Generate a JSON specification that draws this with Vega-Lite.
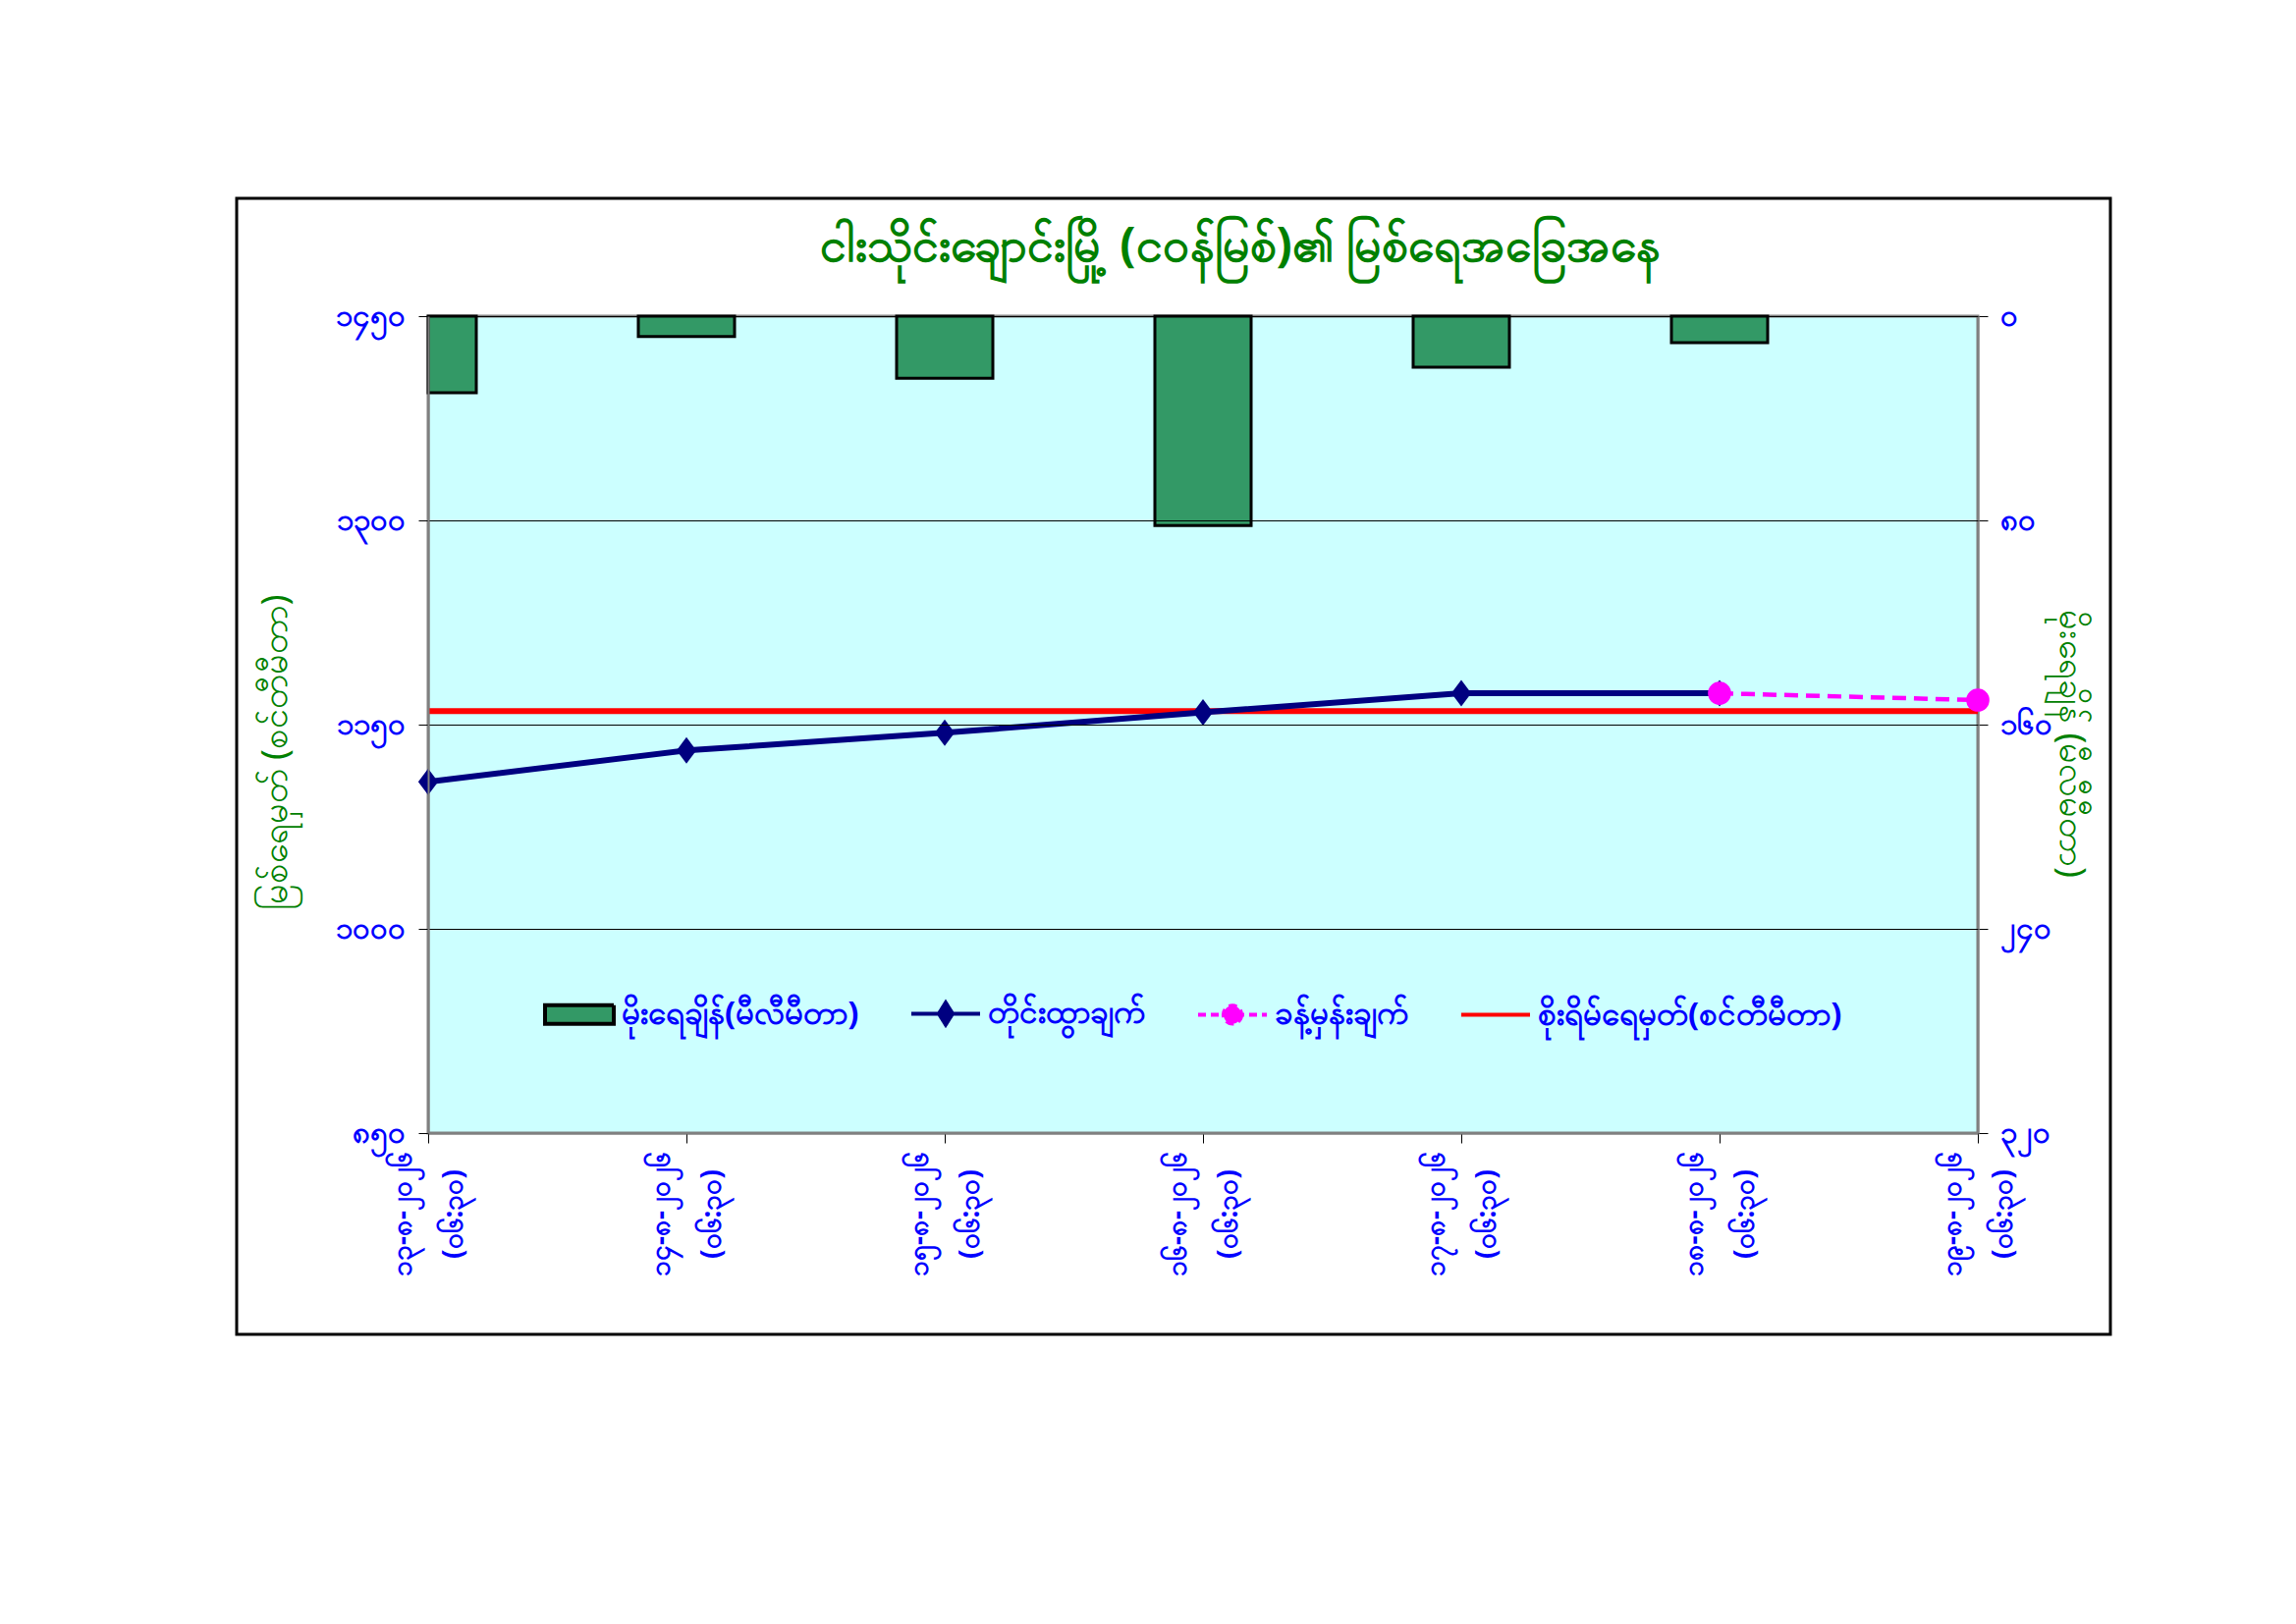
{
  "$schema": "https://vega.github.io/schema/vega-lite/v6.json",
  "width": 1908,
  "height": 1157,
  "autosize": {"type": "none"},
  "padding": {"left": 241, "top": 202, "right": 189, "bottom": 295},
  "background": "white",
  "title": {
    "text": "ငါးသိုင်းချောင်းမြို့ (ငဝန်မြစ်)၏  မြစ်ရေအခြေအနေ",
    "font": "Noto Sans",
    "fontSize": 48,
    "fontWeight": "bold",
    "color": "#008000",
    "anchor": "middle",
    "frame": "group",
    "dx": 68,
    "dy": 78
  },
  "config": {
    "view": {"stroke": "#000000", "strokeWidth": 3, "fill": "white"},
    "font": "Noto Sans",
    "axis": {
      "labelFont": "Noto Sans",
      "labelFontSize": 31,
      "labelFontWeight": "bold",
      "labelColor": "#0000FF",
      "titleFont": "Noto Sans",
      "titleFontSize": 36,
      "titleFontWeight": "normal",
      "titleColor": "#008000",
      "titleBaseline": "middle",
      "tickColor": "#000000",
      "tickSize": 10,
      "domainColor": "#808080",
      "domainWidth": 2,
      "grid": false,
      "labelOverlap": false
    },
    "legend": {
      "orient": "none",
      "legendX": 312,
      "legendY": 793,
      "direction": "horizontal",
      "symbolSize": 4900,
      "symbolStrokeWidth": 4,
      "labelFont": "Noto Sans",
      "labelFontSize": 33,
      "labelFontWeight": "bold",
      "labelColor": "#0000FF",
      "labelOffset": 6,
      "labelLimit": 0,
      "columnPadding": 45
    }
  },
  "datasets": {
    "river": [
      {"date": "၁၃-၈-၂၀၂၆ (၀၆:၃၀)", "series": "မိုးရေချိန်(မီလီမီတာ)", "value": 30},
      {"date": "၁၄-၈-၂၀၂၆ (၀၆:၃၀)", "series": "မိုးရေချိန်(မီလီမီတာ)", "value": 8},
      {"date": "၁၅-၈-၂၀၂၆ (၀၆:၃၀)", "series": "မိုးရေချိန်(မီလီမီတာ)", "value": 24.3},
      {"date": "၁၆-၈-၂၀၂၆ (၀၆:၃၀)", "series": "မိုးရေချိန်(မီလီမီတာ)", "value": 82},
      {"date": "၁၇-၈-၂၀၂၆ (၀၆:၃၀)", "series": "မိုးရေချိန်(မီလီမီတာ)", "value": 20},
      {"date": "၁၈-၈-၂၀၂၆ (၀၆:၃၀)", "series": "မိုးရေချိန်(မီလီမီတာ)", "value": 10.4},
      {"date": "၁၃-၈-၂၀၂၆ (၀၆:၃၀)", "series": "တိုင်းထွာချက်", "value": 1108},
      {"date": "၁၄-၈-၂၀၂၆ (၀၆:၃၀)", "series": "တိုင်းထွာချက်", "value": 1131},
      {"date": "၁၅-၈-၂၀၂၆ (၀၆:၃၀)", "series": "တိုင်းထွာချက်", "value": 1144},
      {"date": "၁၆-၈-၂၀၂၆ (၀၆:၃၀)", "series": "တိုင်းထွာချက်", "value": 1159},
      {"date": "၁၇-၈-၂၀၂၆ (၀၆:၃၀)", "series": "တိုင်းထွာချက်", "value": 1173},
      {"date": "၁၈-၈-၂၀၂၆ (၀၆:၃၀)", "series": "တိုင်းထွာချက်", "value": 1173},
      {"date": "၁၈-၈-၂၀၂၆ (၀၆:၃၀)", "series": "ခန့်မှန်းချက်", "value": 1173},
      {"date": "၁၉-၈-၂၀၂၆ (၀၆:၃၀)", "series": "ခန့်မှန်းချက်", "value": 1168},
      {"date": "၁၃-၈-၂၀၂၆ (၀၆:၃၀)", "series": "စိုးရိမ်ရေမှတ်(စင်တီမီတာ)", "value": 1160},
      {"date": "၁၄-၈-၂၀၂၆ (၀၆:၃၀)", "series": "စိုးရိမ်ရေမှတ်(စင်တီမီတာ)", "value": 1160},
      {"date": "၁၅-၈-၂၀၂၆ (၀၆:၃၀)", "series": "စိုးရိမ်ရေမှတ်(စင်တီမီတာ)", "value": 1160},
      {"date": "၁၆-၈-၂၀၂၆ (၀၆:၃၀)", "series": "စိုးရိမ်ရေမှတ်(စင်တီမီတာ)", "value": 1160},
      {"date": "၁၇-၈-၂၀၂၆ (၀၆:၃၀)", "series": "စိုးရိမ်ရေမှတ်(စင်တီမီတာ)", "value": 1160},
      {"date": "၁၈-၈-၂၀၂၆ (၀၆:၃၀)", "series": "စိုးရိမ်ရေမှတ်(စင်တီမီတာ)", "value": 1160},
      {"date": "၁၉-၈-၂၀၂၆ (၀၆:၃၀)", "series": "စိုးရိမ်ရေမှတ်(စင်တီမီတာ)", "value": 1160}
    ]
  },
  "encoding": {
    "x": {
      "field": "date",
      "type": "ordinal",
      "title": null,
      "scale": {
        "type": "point",
        "domain": [
          "၁၃-၈-၂၀၂၆ (၀၆:၃၀)", "၁၄-၈-၂၀၂၆ (၀၆:၃၀)", "၁၅-၈-၂၀၂၆ (၀၆:၃၀)",
          "၁၆-၈-၂၀၂၆ (၀၆:၃၀)", "၁၇-၈-၂၀၂၆ (၀၆:၃၀)", "၁၈-၈-၂၀၂၆ (၀၆:၃၀)",
          "၁၉-၈-၂၀၂၆ (၀၆:၃၀)"
        ],
        "range": [195, 1773],
        "padding": 0
      },
      "axis": {
        "orient": "bottom",
        "offset": -205,
        "labelExpr": "split(datum.label, ' ')",
        "labelAngle": -90,
        "labelAlign": "center",
        "labelBaseline": "middle",
        "labelPadding": 72,
        "labelOffset": -26,
        "labelLineHeight": 52,
        "labelFontSize": 28,
        "labelBound": false
      }
    }
  },
  "layer": [
    {
      "layer": [
        {
          "data": {"values": [{}]},
          "mark": {"type": "rect", "fill": "#CCFFFF", "stroke": "#808080", "strokeWidth": 3},
          "encoding": {
            "x": {"datum": "၁၃-၈-၂၀၂၆ (၀၆:၃၀)", "type": "ordinal"},
            "x2": {"datum": "၁၉-၈-၂၀၂၆ (၀၆:၃၀)"},
            "y": {"datum": 0, "type": "quantitative"},
            "y2": {"datum": 320}
          }
        },
        {
          "data": {"name": "river"},
          "transform": [
            {"filter": "datum.series === 'မိုးရေချိန်(မီလီမီတာ)' && datum.date !== '၁၃-၈-၂၀၂၆ (၀၆:၃၀)'"}
          ],
          "mark": {"type": "bar", "width": 98, "fill": "#339966", "stroke": "#000000", "strokeWidth": 3},
          "encoding": {
            "y": {
              "field": "value",
              "type": "quantitative",
              "title": "မိုးရေချိန် (မီလီမီတာ)",
              "scale": {"domain": [0, 320], "range": [120, 952], "nice": false, "zero": true},
              "axis": {
                "orient": "right",
                "offset": -135,
                "values": [0, 80, 160, 240, 320],
                "format": "d",
                "labelPadding": 12,
                "titleX": 94,
                "titleY": 555,
                "labelExpr": "replace(replace(replace(replace(replace(replace(replace(replace(replace(replace(datum.label,regexp('0','g'),'၀'),regexp('1','g'),'၁'),regexp('2','g'),'၂'),regexp('3','g'),'၃'),regexp('4','g'),'၄'),regexp('5','g'),'၅'),regexp('6','g'),'၆'),regexp('7','g'),'၇'),regexp('8','g'),'၈'),regexp('9','g'),'၉')"
              }
            }
          }
        },
        {
          "data": {"name": "river"},
          "transform": [
            {"filter": "datum.series === 'မိုးရေချိန်(မီလီမီတာ)' && datum.date === '၁၃-၈-၂၀၂၆ (၀၆:၃၀)'"}
          ],
          "mark": {"type": "bar", "width": 49, "xOffset": 24.5, "fill": "#339966", "stroke": "#000000", "strokeWidth": 3},
          "encoding": {
            "y": {"field": "value", "type": "quantitative"}
          }
        }
      ]
    },
    {
      "data": {"name": "river"},
      "layer": [
        {
          "transform": [{"filter": "datum.series === 'စိုးရိမ်ရေမှတ်(စင်တီမီတာ)'"}],
          "mark": {"type": "line", "color": "#FF0000", "strokeWidth": 6},
          "encoding": {
            "y": {
              "field": "value",
              "type": "quantitative",
              "title": "မြစ်ရေမှတ် (စင်တီမီတာ)",
              "scale": {"domain": [850, 1450], "range": [952, 120], "nice": false, "zero": false},
              "axis": {
                "orient": "left",
                "offset": -195,
                "values": [850, 1000, 1150, 1300, 1450],
                "format": "d",
                "grid": true,
                "gridColor": "#000000",
                "gridWidth": 1,
                "zindex": 1,
                "labelPadding": 14,
                "titleX": -156,
                "titleY": 564,
                "labelExpr": "replace(replace(replace(replace(replace(replace(replace(replace(replace(replace(datum.label,regexp('0','g'),'၀'),regexp('1','g'),'၁'),regexp('2','g'),'၂'),regexp('3','g'),'၃'),regexp('4','g'),'၄'),regexp('5','g'),'၅'),regexp('6','g'),'၆'),regexp('7','g'),'၇'),regexp('8','g'),'၈'),regexp('9','g'),'၉')"
              }
            }
          }
        },
        {
          "transform": [{"filter": "datum.series === 'တိုင်းထွာချက်'"}],
          "mark": {"type": "line", "color": "#000080", "strokeWidth": 6},
          "encoding": {"y": {"field": "value", "type": "quantitative"}}
        },
        {
          "transform": [{"filter": "datum.series === 'တိုင်းထွာချက်'"}],
          "mark": {"type": "point", "shape": "M0,-1L0.75,0L0,1L-0.75,0Z", "filled": true, "color": "#000080", "size": 729, "opacity": 1},
          "encoding": {"y": {"field": "value", "type": "quantitative"}}
        },
        {
          "transform": [{"filter": "datum.series === 'ခန့်မှန်းချက်'"}],
          "mark": {"type": "line", "color": "#FF00FF", "strokeWidth": 4.5, "strokeDash": [14, 8]},
          "encoding": {"y": {"field": "value", "type": "quantitative"}}
        },
        {
          "transform": [{"filter": "datum.series === 'ခန့်မှန်းချက်'"}],
          "mark": {"type": "point", "shape": "circle", "filled": true, "color": "#FF00FF", "size": 560, "opacity": 1},
          "encoding": {"y": {"field": "value", "type": "quantitative"}}
        },
        {
          "transform": [{"filter": "false"}],
          "mark": {"type": "point", "filled": true, "opacity": 1},
          "encoding": {
            "y": {"field": "value", "type": "quantitative"},
            "shape": {
              "field": "series",
              "type": "nominal",
              "title": null,
              "scale": {
                "domain": ["မိုးရေချိန်(မီလီမီတာ)", "တိုင်းထွာချက်", "ခန့်မှန်းချက်", "စိုးရိမ်ရေမှတ်(စင်တီမီတာ)"],
                "range": [
                  "M-1,-0.27H1V0.27H-1Z",
                  "M-1,0H1M0,-0.32L0.2,0L0,0.32L-0.2,0Z",
                  "M-1,0H1M0.26,0A0.26,0.26,0,1,1,-0.26,0A0.26,0.26,0,1,1,0.26,0Z",
                  "M-1,0H1"
                ]
              }
            },
            "fill": {
              "field": "series",
              "type": "nominal",
              "title": null,
              "scale": {
                "domain": ["မိုးရေချိန်(မီလီမီတာ)", "တိုင်းထွာချက်", "ခန့်မှန်းချက်", "စိုးရိမ်ရေမှတ်(စင်တီမီတာ)"],
                "range": ["#339966", "#000080", "#FF00FF", "#FF0000"]
              }
            },
            "stroke": {
              "field": "series",
              "type": "nominal",
              "title": null,
              "scale": {
                "domain": ["မိုးရေချိန်(မီလီမီတာ)", "တိုင်းထွာချက်", "ခန့်မှန်းချက်", "စိုးရိမ်ရေမှတ်(စင်တီမီတာ)"],
                "range": ["#000000", "#000080", "#FF00FF", "#FF0000"]
              }
            },
            "strokeDash": {
              "field": "series",
              "type": "nominal",
              "title": null,
              "scale": {
                "domain": ["မိုးရေချိန်(မီလီမီတာ)", "တိုင်းထွာချက်", "ခန့်မှန်းချက်", "စိုးရိမ်ရေမှတ်(စင်တီမီတာ)"],
                "range": [[1, 0], [1, 0], [8, 5], [1, 0]]
              }
            }
          }
        }
      ]
    }
  ],
  "resolve": {"scale": {"y": "independent"}}
}
